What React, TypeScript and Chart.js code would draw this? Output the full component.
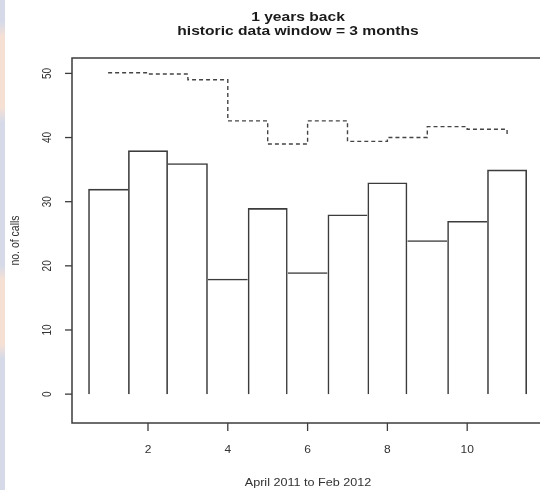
import React, { useEffect, useRef } from "react";
import { Chart, registerables } from "chart.js";

Chart.register(...registerables);

const months = [1, 2, 3, 4, 5, 6, 7, 8, 9, 10, 11];
const calls = [32, 38, 36, 18, 29, 19, 28, 33, 24, 27, 35];
const historic = [50.1, 49.9, 49.0, 42.6, 39.0, 42.6, 39.4, 40.0, 41.7, 41.3, 40.4];
const xTicks = [2, 4, 6, 8, 10];
const yTicks = [0, 10, 20, 30, 40, 50];
const titleLines = ["1 years back", "historic data window = 3 months"];
const xTitle = "April 2011 to Feb 2012";
const yTitle = "no. of calls";

const FONT = "'Liberation Sans', Arial, Helvetica, sans-serif";
const INK = "#3c3c3c";
const BW = 1.6;
const SX = 1.2;

const bgPlugin = {
  id: "bgStrip",
  beforeDraw(chart: any) {
    const { ctx, width, height } = chart;
    ctx.save();
    ctx.fillStyle = "#ffffff";
    ctx.fillRect(0, 0, width, height);
    ctx.fillStyle = "#d6dae8";
    ctx.fillRect(0, 0, 5, height);
    const band = (y0: number, h: number) => {
      const g = ctx.createLinearGradient(0, y0, 0, y0 + h);
      g.addColorStop(0, "rgba(246,224,212,0)");
      g.addColorStop(0.15, "rgba(246,224,212,1)");
      g.addColorStop(0.85, "rgba(246,224,212,1)");
      g.addColorStop(1, "rgba(246,224,212,0)");
      ctx.fillStyle = g;
      ctx.fillRect(0, y0, 5, h);
    };
    band(22, 100);
    band(266, 92);
    ctx.restore();
  },
};

function hText(ctx: any, text: string, x: number, y: number) {
  ctx.save();
  ctx.translate(x, y);
  ctx.scale(SX, 1);
  ctx.fillText(text, 0, 0);
  ctx.restore();
}

function vText(ctx: any, text: string, x: number, y: number) {
  ctx.save();
  ctx.translate(x, y);
  ctx.scale(SX, 1);
  ctx.rotate(-Math.PI / 2);
  ctx.fillText(text, 0, 0);
  ctx.restore();
}

const axesPlugin = {
  id: "rAxes",
  afterDatasetsDraw(chart: any) {
    const { ctx, chartArea, scales } = chart;
    const { left, right, top, bottom } = chartArea;
    const x = scales.x;
    const y = scales.y;
    ctx.save();
    ctx.strokeStyle = INK;
    ctx.lineWidth = 1.5;
    ctx.strokeRect(left, top, right - left + 10, bottom - top);

    ctx.fillStyle = "#333";
    ctx.lineWidth = 1.3;
    ctx.font = `10px ${FONT}`;
    ctx.textAlign = "center";
    ctx.textBaseline = "middle";
    xTicks.forEach((v) => {
      const px = x.getPixelForValue(v);
      ctx.beginPath();
      ctx.moveTo(px, bottom);
      ctx.lineTo(px, bottom + 8);
      ctx.stroke();
      hText(ctx, String(v), px, bottom + 27);
    });
    yTicks.forEach((v) => {
      const py = y.getPixelForValue(v);
      ctx.beginPath();
      ctx.moveTo(left, py);
      ctx.lineTo(left - 7, py);
      ctx.stroke();
      vText(ctx, String(v), left - 24, py);
    });
    ctx.font = `10.5px ${FONT}`;
    hText(ctx, xTitle, (left + 544) / 2, 483);
    ctx.font = `10.5px ${FONT}`;
    vText(ctx, yTitle, 16, (top + bottom) / 2);
    ctx.fillStyle = "#1a1a1a";
    ctx.font = `bold 13px ${FONT}`;
    hText(ctx, titleLines[0], 298, 17);
    hText(ctx, titleLines[1], 298, 31);
    ctx.restore();
  },
};

export default function App() {
  const ref = useRef<HTMLCanvasElement | null>(null);
  useEffect(() => {
    document.body.style.margin = "0";
    const canvas = ref.current;
    if (!canvas) return;
    const last = calls.length - 1;
    const chart = new Chart(canvas, {
      type: "bar",
      data: {
        datasets: [
          {
            type: "line",
            label: "historic",
            data: months.map((m, i) => ({ x: m, y: historic[i] })),
            borderColor: "#444",
            borderWidth: 1.4,
            borderDash: [4, 3],
            stepped: "before",
            pointRadius: 0,
            fill: false,
            tension: 0,
          } as any,
          {
            type: "bar",
            label: "calls",
            data: months.map((m, i) => ({ x: m, y: calls[i] })),
            backgroundColor: "rgba(255,255,255,0)",
            borderColor: INK,
            borderSkipped: "start",
            inflateAmount: 0,
            borderWidth: (c: any) => {
              const i = c.dataIndex;
              const h = calls[i];
              const l = i === 0 || calls[i - 1] < h ? BW : 0;
              const r = i === last || calls[i + 1] <= h ? BW : 0;
              return { top: BW, left: l, right: r, bottom: 0 };
            },
            barPercentage: 1,
            categoryPercentage: 1,
          } as any,
        ],
      },
      options: {
        responsive: false,
        animation: false,
        devicePixelRatio: 1,
        layout: { padding: { left: 72, top: 58, right: 0, bottom: 67 } },
        plugins: {
          legend: { display: false },
          title: { display: false },
          tooltip: { enabled: false },
        },
        scales: {
          x: { type: "linear", display: false, min: 0.095, max: 11.825, offset: false },
          y: { type: "linear", display: false, min: -4.5, max: 52.4 },
        },
      } as any,
      plugins: [bgPlugin, axesPlugin],
    });
    return () => chart.destroy();
  }, []);
  return (
    <div style={{ position: "fixed", left: 0, top: 0, width: 540, height: 490 }}>
      <canvas ref={ref} width={540} height={490} style={{ display: "block" }} />
    </div>
  );
}
